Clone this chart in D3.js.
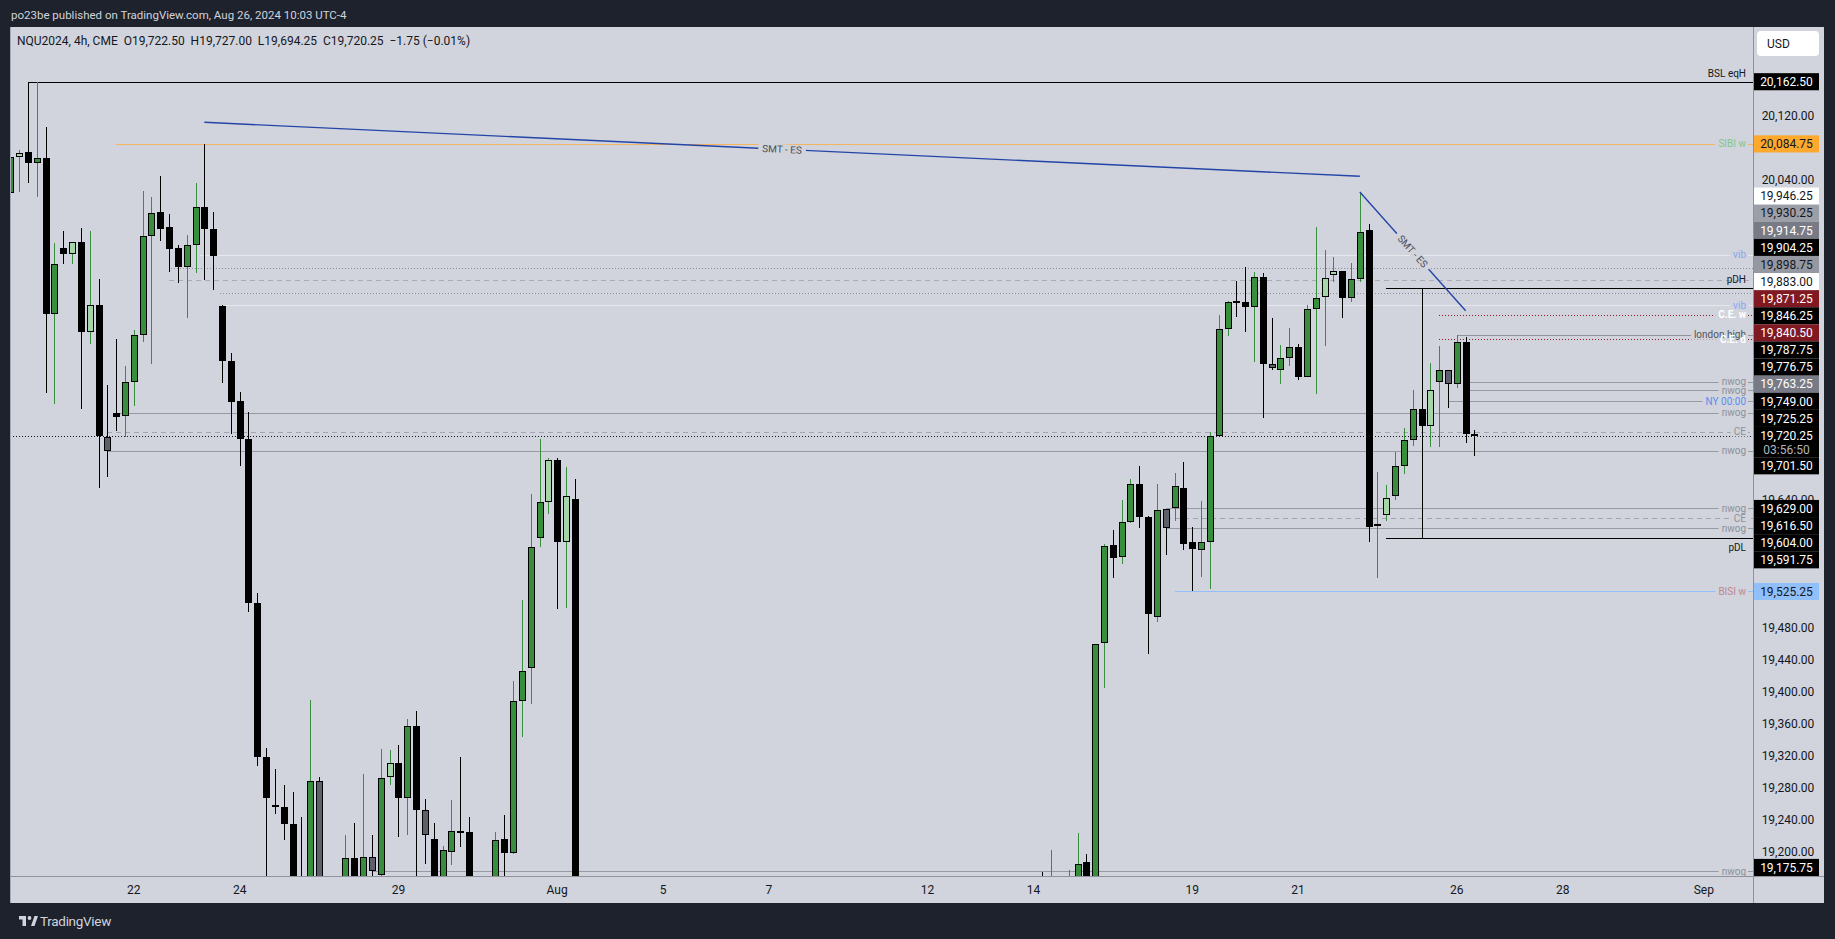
<!DOCTYPE html>
<html><head><meta charset="utf-8">
<script src="https://cdn.jsdelivr.net/npm/d3@7"></script>
<style>html,body{margin:0;padding:0;background:#1e222d;overflow:hidden}</style>
</head><body><svg id="c" width="1835" height="939"></svg>
<script>
// ---------------- DATA ----------------
const publishedNote = "po23be published on TradingView.com, Aug 26, 2024 10:03 UTC-4";
const symbolInfo = "NQU2024, 4h, CME";
const currency = "USD";
const countdown = "03:56:50";

// bar index 0 = first 4h bar dated Jul 22
const dateTickBars   = [0, 12, 30, 48, 60, 72, 90, 102, 120, 132, 150, 162, 178];
const dateTickLabels = ["22","24","29","Aug","5","7","12","14","19","21","26","28","Sep"];

const priceTicks = [19200,19240,19280,19320,19360,19400,19440,19480,19520,19560,19600,19640,19680,
  19720,19760,19800,19840,19880,19920,19960,20000,20040,20080,20120,20160];

// [bar, open, high, low, close]
const candles = [
 [-14,20023,20079,20020,20069],[-13,20068.8,20077.1,20025,20073.8],[-12,20074.2,20162.5,20036.3,20061.3],
 [-11,20060.4,20162.5,20018.8,20066.7],[-10,20066.7,20105.4,19772.9,19871.7],[-9,19871.7,19960.9,19759.2,19934.2],
 [-8,19954.2,19975.9,19935,19946.7],[-7,19946.7,19961.7,19935,19961.7],[-6,19961.7,19979.2,19752.9,19849.2],
 [-5,19849.2,19975.9,19835,19882.9],[-4,19882.9,19915.9,19654.2,19720],[-3,19718.8,19783.4,19668.8,19701.5],
 [-2,19749,19840.9,19726.3,19743.8],[-1,19744.2,19807.1,19718.8,19786.7],[0,19786.7,19852.1,19757.5,19845.4],
 [1,19845.4,20025.9,19837.5,19969.2],[2,19969.2,20018.4,19810,19997.9],[3,19999.2,20044.6,19963.8,19978.8],
 [4,19980.4,19997.1,19925,19953.8],[5,19954.2,19958.3,19911.3,19931.3],[6,19931.3,19970.8,19867.5,19957.9],
 [7,19957.9,20035.8,19923.8,20005.4],[8,20005.4,20084.75,19914.6,19978.8],[9,19978,19999.6,19902.1,19945],
 [10,19881.7,19883,19786.3,19813.8],[11,19813.4,19823.3,19721.7,19761.7],[12,19763.3,19774.6,19682.5,19715.4],
 [13,19715.4,19749.6,19500,19510.4],[14,19510.4,19522.9,19307.5,19317.9],[15,19317.9,19329.2,19080,19267.5],
 [16,19257.9,19303.4,19246.7,19255.4],[17,19255.4,19283.3,19215,19234.2],[18,19234.6,19274.6,19100,19150],
 [19,19150,19243.8,19080,19110],[20,19120,19389.6,19100,19287.9],[21,19287.9,19292.9,19140,19160],
 [24,19150,19220.8,19130,19191.7],[25,19191.7,19235.4,19120,19150],[26,19150,19297.1,19120,19192.9],
 [27,19193.8,19220.8,19160,19175.75],[28,19170.8,19328.4,19150,19291.7],[29,19293.8,19327.1,19283.3,19310.4],
 [30,19310.4,19333.3,19218.8,19267.5],[31,19267.5,19366.3,19220.8,19356.7],[32,19356.7,19375.8,19150,19252.5],
 [33,19252.5,19265.8,19185,19220.4],[34,19215.9,19235.9,19130,19150],[35,19150,19207.1,19140,19202.1],
 [36,19200,19264.6,19183.3,19225.4],[37,19225.4,19317.9,19206.3,19223.8],[38,19224.2,19242.9,19120,19150],
 [41,19150,19224.2,19140,19214.2],[42,19215.4,19245.4,19150,19197.9],[43,19198.8,19413.3,19196.7,19388.8],
 [44,19388.8,19514.6,19343.8,19425.4],[45,19430,19647.1,19385,19580.4],[46,19591.7,19715.9,19581.3,19636.7],
 [47,19636.7,19692.1,19622.5,19689.2],[48,19689.2,19692.1,19503.8,19587.5],[49,19587.5,19680.8,19505,19644.2],
 [50,19640.8,19665.9,18950,19000],
 [103,19150,19174.2,19050,19100],[104,19100,19202.1,19080,19160],[106,19120,19177.1,19100,19165],
 [107,19140,19223.4,19130,19184.6],[108,19186.7,19197.1,19120,19140],[109,19140,19460,19130,19459.2],
 [110,19460.4,19584.6,19405,19582.1],[111,19583.3,19602.1,19542.5,19566.7],[112,19568.8,19639.6,19559.6,19611.7],
 [113,19612.5,19665.8,19610.4,19659.2],[114,19659.2,19682.1,19605,19617.9],[115,19617.9,19620,19447.1,19496.7],
 [116,19492.9,19659.6,19487.5,19626.7],[117,19627.9,19627.9,19571.3,19604],[118,19629,19673.4,19613.8,19656.7],
 [119,19654.2,19687.1,19577.1,19584.2],[120,19586.7,19605.8,19525.25,19577.9],[121,19577.1,19638.3,19543.8,19586.7],
 [122,19586.7,19725,19528.3,19720],[123,19720,19870.8,19718.8,19852.9],[124,19853,19888,19844.6,19886.7],
 [125,19888.3,19913.4,19868.8,19886.7],[126,19886.7,19930.8,19850,19880.4],[127,19880.4,19924.6,19812.5,19917.9],
 [128,19917.9,19922.9,19742.5,19809.2],[129,19809.2,19866.7,19802.1,19804.2],[130,19801.7,19832.9,19785,19816.7],
 [131,19816.7,19854.6,19807.5,19830.4],[132,19830.4,19834.6,19790,19793.8],[133,19793.8,19883.3,19793.8,19877.9],
 [134,19877.9,19980.4,19771.7,19891.7],[135,19893.8,19952.1,19832.5,19916.7],[136,19920.4,19942.9,19912.5,19925.4],
 [137,19925.4,19925.4,19866.7,19891.7],[138,19891.7,19935.4,19887.5,19915.4],[139,19915.4,20024.6,19912.5,19975],
 [140,19976.7,19984.6,19586.7,19606.3],[141,19607.1,19674.2,19541.7,19610],[142,19620.4,19658.3,19613.8,19642.5],
 [143,19644.6,19699.6,19639.6,19681.7],[144,19681.7,19729.2,19671.7,19714.2],[145,19714.2,19777.1,19707.1,19753],
 [146,19753,19904.25,19591.75,19731.7],[147,19731.7,19811.3,19705.4,19776.75],[148,19787.75,19832.1,19705.4,19802.1],
 [149,19802.1,19802.1,19754.2,19784.2],[150,19784.2,19846.25,19779.2,19836.7],[151,19836.7,19842.9,19711.3,19722],
 [152,19722.5,19727,19694.25,19720.25]
];
// bars flagged by the inside-bar colouring
const insideBars = [-13,-7,-5,-3,16,21,27,29,33,47,49,117,129,135,136,142,147,149];

// horizontal levels
const levelPrices = [20162.5,20084.75,19946.25,19930.25,19914.75,19904.25,19898.75,19883,19871.25,19846.25,19840.5,
  19787.75,19776.75,19763.25,19749,19725.25,19701.5,19629,19616.5,19604,19591.75,19525.25,19175.75];
const levelKinds = ["bsl","sibi","vib","dotA","dashA","pdh","dotB","vib","cew","london","ced",
  "nwog","nwog","ny","nwog","ce","nwog","nwog","ce","nwog","pdl","bisi","nwog"];
const levelStartBars = [-12,-2,7.5,4.2,4,142,9.8,10.3,148,150,148,151,151,149,-2,-3,-3,117,117,117,142,118,27];
const levelTexts = ["BSL eqH","SIBI w","vib","","","pDH","","vib","C.E. w","london high","C.E. d",
  "nwog","nwog","NY 00:00","nwog","CE","nwog","nwog","CE","nwog","pDL","BISI w","nwog"];

// trend lines: [bar1, price1, bar2, price2, text]
const smtLines = [[8,20111.75,139,20044.25,"SMT - ES"],[139,20024.6,151,19876.25,"SMT - ES"]];

// ---------------- STYLE ----------------
const FONT = "Roboto, 'Noto Sans', sans-serif";
const BG = "#d1d4dc", DARK = "#1e222d", INK = "#131722";
const kindStyle = {
  bsl:   {stroke:"#000",    dash:null,  text:INK,      pos:"above", bg:"#000",    fg:"#fff"},
  sibi:  {stroke:"#f5b461", dash:null,  text:"#86c688",pos:"mid",   bg:"#ffa82e", fg:INK},
  vib:   {stroke:"#e6e8ee", dash:null,  text:"#84a6f2",pos:"mid",   bg:"#ffffff", fg:INK},
  dotA:  {stroke:"#8c8f98", dash:"1,2", text:INK,      pos:"mid",   bg:"#9c9fa8", fg:INK},
  dashA: {stroke:"#aaadb5", dash:"5,4", text:INK,      pos:"mid",   bg:"#787b86", fg:"#fff"},
  pdh:   {stroke:"#000",    dash:null,  text:INK,      pos:"above", bg:"#000",    fg:"#fff"},
  pdl:   {stroke:"#000",    dash:null,  text:INK,      pos:"below", bg:"#000",    fg:"#fff"},
  dotB:  {stroke:"#8c8f98", dash:"1,2", text:INK,      pos:"mid",   bg:"#9598a1", fg:INK},
  cew:   {stroke:"#8e1c28", dash:"1,2", text:"#ffffff",pos:"mid",   bg:"#801922", fg:"#fff", bold:true},
  ced:   {stroke:"#8e1c28", dash:"1,2", text:"#ffffff",pos:"mid",   bg:"#801922", fg:"#fff", bold:true},
  london:{stroke:"#8f929b", dash:null,  text:"#50535e",pos:"mid",   bg:"#000",    fg:"#fff"},
  nwog:  {stroke:"#979aa3", dash:null,  text:"#8d9099",pos:"mid",   bg:"#000",    fg:"#fff"},
  ny:    {stroke:"#979aa3", dash:null,  text:"#5b8def",pos:"mid",   bg:"#787b86", fg:"#fff"},
  ce:    {stroke:"#a3a6ae", dash:"5,4", text:"#8d9099",pos:"mid",   bg:"#000",    fg:"#fff"},
  bisi:  {stroke:"#90bff9", dash:null,  text:"#bf878c",pos:"mid",   bg:"#90bff9", fg:INK}
};
const UP="#388e3c", UP_IN="#a5d6a7", DN="#000000", DN_IN="#5d606b";

// ---------------- LAYOUT ----------------
const panel = {l:10, t:27, r:1824, b:903};
const plot  = {l:10, t:27, r:1753, b:876};
const svg = d3.select("#c").style("font-family", FONT);

const x = d3.scaleLinear().domain([0,178]).range([133.8,1703.8]);
const y = d3.scaleLinear().domain([19169.6,20230.9]).range([plot.b, plot.t]);

svg.append("rect").attr("width",1835).attr("height",939).attr("fill",DARK);
svg.append("text").attr("x",11).attr("y",19).attr("font-size",11.5).attr("fill","#d1d4dc").text(publishedNote);
svg.append("rect").attr("x",panel.l).attr("y",panel.t).attr("width",panel.r-panel.l).attr("height",panel.b-panel.t).attr("fill",BG);

const defs = svg.append("defs");
defs.append("clipPath").attr("id","pc").append("rect")
  .attr("x",plot.l+1).attr("y",plot.t).attr("width",plot.r-plot.l-1).attr("height",plot.b-plot.t);
const g = svg.append("g").attr("clip-path","url(#pc)");

// levels
const levels = levelPrices.map((p,i)=>({price:p, kind:levelKinds[i], start:levelStartBars[i], text:levelTexts[i]}));
const lineLayer = g.append("g").attr("shape-rendering","crispEdges");
levels.forEach(d=>{
  const s = kindStyle[d.kind];
  const yy = Math.round(y(d.price))+0.5;
  lineLayer.append("line").attr("x1",x(d.start)).attr("x2",plot.r).attr("y1",yy).attr("y2",yy)
    .attr("stroke",s.stroke).attr("stroke-width",1).attr("stroke-dasharray",s.dash);
});

// candles
const last = candles[candles.length-1];
const prev = candles[candles.length-2];
const candleLayer = g.append("g").attr("shape-rendering","crispEdges");
candles.forEach(c=>{
  const [b,o,h,l,cl] = c;
  const up = cl > o;
  const ins = insideBars.includes(b);
  const fill = up ? (ins?UP_IN:UP) : (ins?DN_IN:DN);
  const cx = Math.round(x(b));
  candleLayer.append("rect").attr("x",cx).attr("width",1)
    .attr("y",y(h)).attr("height",Math.max(1,y(l)-y(h))).attr("fill", up?UP:DN);
  const top = Math.round(y(Math.max(o,cl))), bot = Math.round(y(Math.min(o,cl)));
  const hh = Math.max(2, bot-top);
  candleLayer.append("rect").attr("x",cx-3+0.5).attr("y",top+0.5).attr("width",6).attr("height",hh-1)
    .attr("fill",fill).attr("stroke","#000").attr("stroke-width",1);
});

// current price line
const cy = Math.round(y(last[4]))+0.5;
g.append("line").attr("x1",plot.l).attr("x2",plot.r).attr("y1",cy).attr("y2",cy)
  .attr("stroke",INK).attr("stroke-dasharray","1,2").attr("shape-rendering","crispEdges");

// trend lines
const tl = g.append("g");
const tlText = [];
smtLines.forEach(([b1,p1,b2,p2,t])=>{
  const x1=x(b1), y1=y(p1), x2=x(b2), y2=y(p2);
  tl.append("line").attr("x1",x1).attr("y1",y1).attr("x2",x2).attr("y2",y2)
    .attr("stroke","#2445a8").attr("stroke-width",1.4);
  tlText.push({x:(x1+x2)/2, y:(y1+y2)/2, a:Math.atan2(y2-y1,x2-x1)*180/Math.PI, t});
});

// level texts with background gaps
const bgLayer = g.append("g"), txtLayer = g.append("g");
const labelRight = 1746;
levels.filter(d=>d.text).forEach(d=>{
  const s = kindStyle[d.kind];
  const yy = y(d.price) + (s.pos==="above"?-8.5:s.pos==="below"?9:0);
  const t = txtLayer.append("text").attr("x",labelRight).attr("y",yy).attr("dy","0.35em")
    .attr("text-anchor","end").attr("font-size",10).attr("fill",s.text)
    .attr("font-weight",s.bold?"bold":null).text(d.text);
  if (s.pos==="mid") {
    const w = t.node().getComputedTextLength();
    bgLayer.append("rect").attr("x",labelRight-w-3).attr("y",yy-5).attr("width",w+5).attr("height",10).attr("fill",BG);
  }
});
tlText.forEach(d=>{
  const gg = txtLayer.append("g").attr("transform",`translate(${d.x},${d.y}) rotate(${d.a})`);
  const t = gg.append("text").attr("text-anchor","middle").attr("dy","0.35em").attr("font-size",10)
    .attr("fill","#4a4d57").text(d.t);
  const w = t.node().getComputedTextLength();
  gg.insert("rect","text").attr("x",-w/2-4).attr("y",-5).attr("width",w+8).attr("height",10).attr("fill",BG);
});

// axes frame
svg.append("line").attr("x1",plot.r+0.5).attr("x2",plot.r+0.5).attr("y1",panel.t).attr("y2",panel.b).attr("stroke","#8f929b");
svg.append("line").attr("x1",panel.l).attr("x2",panel.r).attr("y1",plot.b+0.5).attr("y2",plot.b+0.5).attr("stroke","#8f929b");
svg.append("line").attr("x1",panel.l+0.5).attr("x2",panel.l+0.5).attr("y1",panel.t).attr("y2",panel.b).attr("stroke","#a7aab2");

// legend
const fmt = d3.format(",.2f");
const chg = last[4]-prev[4];
svg.append("text").attr("x",17).attr("y",45).attr("font-size",12).attr("fill",INK).attr("xml:space","preserve")
  .text(`${symbolInfo}  O${fmt(last[1])}  H${fmt(last[2])}  L${fmt(last[3])}  C${fmt(last[4])}  ${d3.format(".2f")(chg)} (${d3.format(".2f")(chg/prev[4]*100)}%)`);

// price labels (stacked like the platform does)
const LH = 17.1, CUR_H = 30.3;
const items = levels.map(d=>({price:d.price, bg:kindStyle[d.kind].bg, fg:kindStyle[d.kind].fg}));
items.push({price:last[4], bg:"#000", fg:"#fff", current:true});
items.forEach(d=>d.yt=y(d.price));
items.sort((a,b)=>a.yt-b.yt);
const ci = items.findIndex(d=>d.current);
items[ci].yc = items[ci].yt;
let edge = items[ci].yc - LH/2;
for (let k=ci-1;k>=0;k--){ const d=items[k]; d.yc=Math.min(d.yt, edge-LH/2); edge=d.yc-LH/2; }
edge = items[ci].yc - LH/2 + CUR_H;
for (let k=ci+1;k<items.length;k++){ const d=items[k]; d.yc=Math.max(d.yt, edge+LH/2); edge=d.yc+LH/2; }
items.forEach(d=>{ d.yc = Math.max(plot.t+LH/2, Math.min(plot.b-LH/2, d.yc)); });

// price axis ticks: hidden where a price label sits on them
const axisG = svg.append("g");
const tickShown = priceTicks.filter(p=>{
  const ty = y(p);
  if (ty < plot.t+6 || ty > plot.b-6) return false;
  return !items.some(d=>{
    const top = d.yc-LH/2, bot = top + (d.current?CUR_H:LH);
    return ty > top-0.5 && ty < bot+0.5 && Math.abs(ty-d.yc) < 8 || (ty>=top && ty<=bot);
  });
});
axisG.selectAll("text.tick").data(tickShown).join("text")
  .attr("x",1788).attr("y",p=>y(p)).attr("dy","0.35em").attr("text-anchor","middle")
  .attr("font-size",12).attr("fill",INK).text(p=>fmt(p));

items.forEach(d=>{
  const h = d.current?CUR_H:LH;
  axisG.append("rect").attr("x",1754).attr("y",d.yc-LH/2).attr("width",65).attr("height",h).attr("fill",d.bg);
  axisG.append("text").attr("x",1786.5).attr("y",d.yc).attr("dy","0.35em").attr("text-anchor","middle")
    .attr("font-size",12).attr("fill",d.fg).text(fmt(d.price));
  if (d.current) axisG.append("text").attr("x",1786.5).attr("y",d.yc+14.5).attr("dy","0.35em").attr("text-anchor","middle")
    .attr("font-size",12).attr("fill","#b2b5be").text(countdown);
});

// currency box
svg.append("rect").attr("x",1757).attr("y",31).attr("width",62).attr("height",25).attr("rx",4).attr("fill","#fff");
svg.append("text").attr("x",1767).attr("y",43.5).attr("dy","0.35em").attr("font-size",12).attr("fill",INK).text(currency);

// time axis
svg.append("g").selectAll("text").data(dateTickBars).join("text")
  .attr("x",b=>x(b)).attr("y",889.5).attr("dy","0.35em").attr("text-anchor","middle")
  .attr("font-size",12).attr("fill",INK).text((b,i)=>dateTickLabels[i]);

// footer logo
const logo = svg.append("g").attr("fill","#d1d4dc");
logo.append("rect").attr("x",19).attr("y",916).attr("width",7).attr("height",3.5);
logo.append("rect").attr("x",22.5).attr("y",916).attr("width",3.5).attr("height",10);
logo.append("circle").attr("cx",29.5).attr("cy",918).attr("r",1.9);
logo.append("path").attr("d","M31 926 L34.5 916 L38 916 L34.5 926 Z");
svg.append("text").attr("x",40).attr("y",921).attr("dy","0.35em").attr("font-size",13.5).attr("fill","#d1d4dc")
  .attr("letter-spacing","-0.3").text("TradingView");
</script></body></html>
